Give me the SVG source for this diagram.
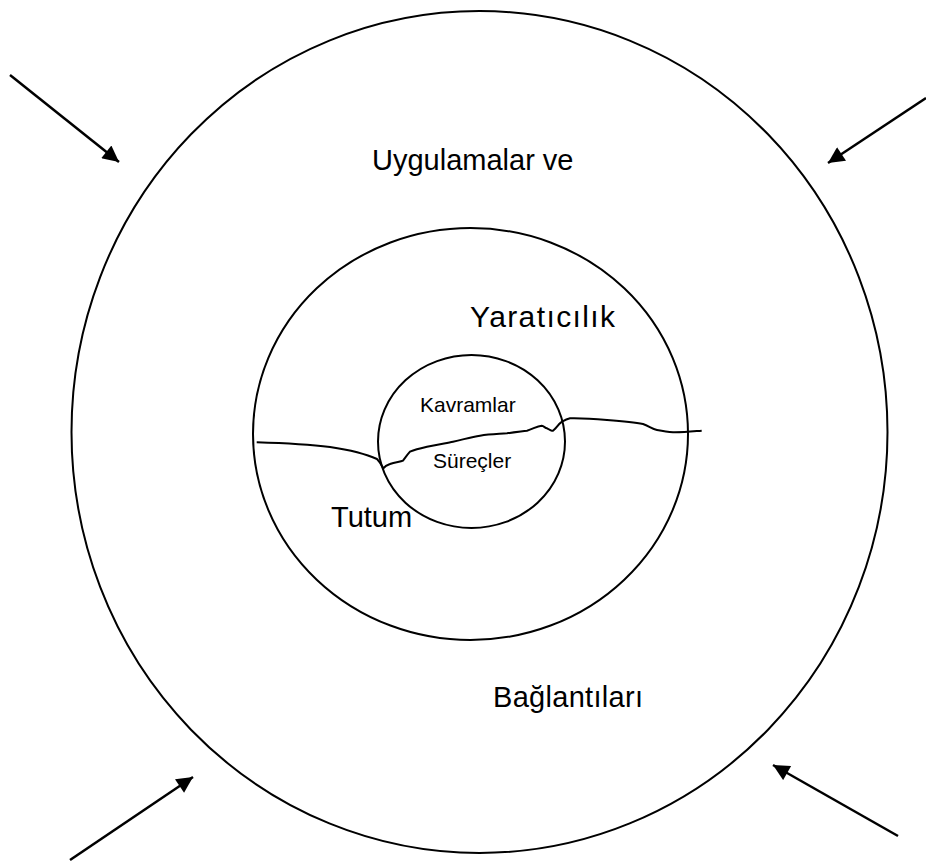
<svg xmlns="http://www.w3.org/2000/svg" width="926" height="861" viewBox="0 0 926 861">
<style>
.ring{fill:none;stroke:#000;stroke-width:2}
.lbl{font-family:"Liberation Sans",Arial,sans-serif;fill:#000}
.big{font-size:29px}
.small{font-size:21px}
.conn{stroke:#000;stroke-width:2.5;fill:none;marker-end:url(#ah)}
</style>
<defs>
<marker id="ah" viewBox="0 0 10 10" refX="10" refY="5" markerWidth="7.5" markerHeight="6.5" markerUnits="strokeWidth" orient="auto">
<path d="M0,0 L10,5 L0,10 z" fill="#000"/>
</marker>
</defs>
<rect width="926" height="861" fill="#fff"/>
<g id="outer">
<ellipse class="ring" cx="479.5" cy="432" rx="408" ry="421"/>
<text class="lbl big" x="372" y="170">Uygulamalar ve</text>
<text class="lbl big" x="493" y="707" textLength="150" lengthAdjust="spacing">Bağlantıları</text>
</g>
<g id="middle">
<ellipse class="ring" cx="470.5" cy="434" rx="217.5" ry="206"/>
<text class="lbl big" x="470" y="327" style="font-size:30px" textLength="145" lengthAdjust="spacing">Yaratıcılık</text>
<text class="lbl big" x="331" y="527">Tutum</text>
</g>
<g id="inner">
<ellipse class="ring" cx="471.5" cy="441.5" rx="93.5" ry="86.5"/>
<text class="lbl small" x="420" y="412">Kavramlar</text>
<text class="lbl small" x="433" y="468">Süreçler</text>
</g>
<g id="divider">
<path class="ring" d="M256.7,442.3 C280,443 306,444 330,447 C350,450 366,454 377,459 C380,462 382,466 383.3,468.3 C385,466 387,465 390,464 C395,462 400,462 403,460.7 C405,458 407,455 410,451.7 C416,449 421,448 427,446.7 C440,444 447,443 453,441.7 C465,439 472,437 480,435.7 C490,434 498,434 507,433.3 C515,432 521,431.5 527,430.7 C533,429 537,426 541.7,425.7 C544,426 545,428 547,428.3 C550,430 552,431 553,430.7 C555,429 556,428 557,426.7 C559,424 560,423 562,421.7 C565,420 567,419 570,418.3 C585,418 596,419 607,420 C620,421 633,422 643,424 C649,426 652,429 657,430 C662,431 668,432 673,432.3 C683,432.5 692,431.5 701.7,430.7"/>
</g>
<g id="connectors">
<line class="conn" x1="10" y1="75" x2="119" y2="162"/>
<line class="conn" x1="926" y1="98" x2="828" y2="163"/>
<line class="conn" x1="70" y1="860" x2="193" y2="777"/>
<line class="conn" x1="898" y1="836" x2="773" y2="765"/>
</g>
</svg>
